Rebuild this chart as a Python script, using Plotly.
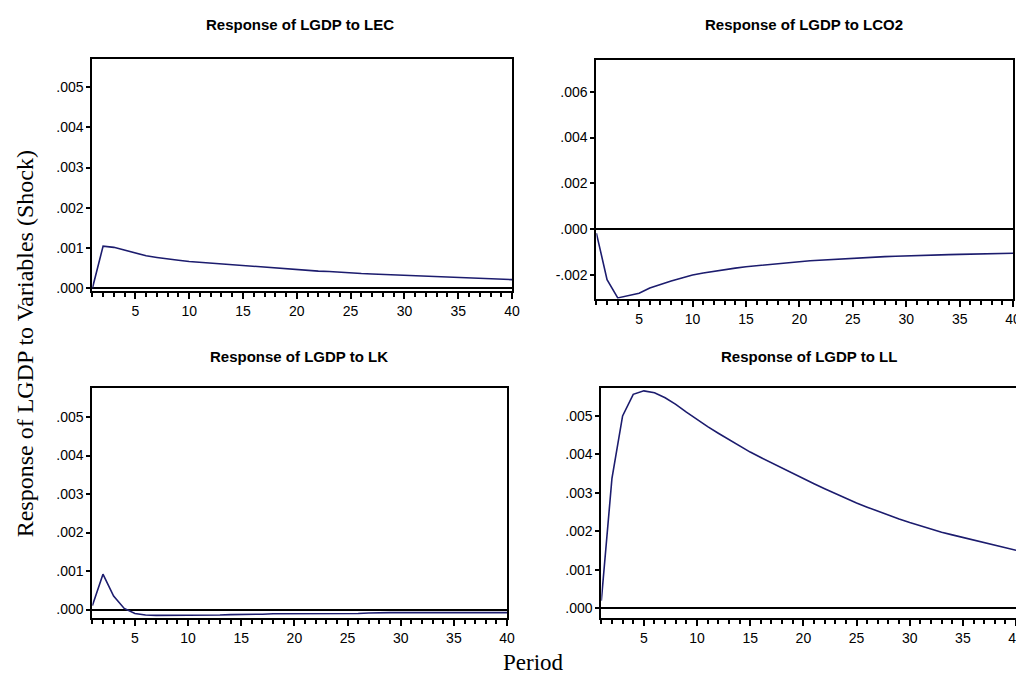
import plotly.graph_objects as go

periods = list(range(1, 41))

resp_lec = [0.0, 0.00105, 0.00102, 0.00095, 0.00087, 0.00081, 0.00077, 0.00073, 0.00070, 0.00067,
            0.00065, 0.00062, 0.00060, 0.00058, 0.00056, 0.00054, 0.00052, 0.00050, 0.00048, 0.00046,
            0.00045, 0.00043, 0.00042, 0.00040, 0.00039, 0.00037, 0.00036, 0.00035, 0.00034, 0.00032,
            0.00031, 0.00030, 0.00029, 0.00028, 0.00027, 0.00026, 0.00025, 0.00024, 0.00023, 0.00022]

resp_lco2 = [-0.00017, -0.0022, -0.0030, -0.0029, -0.0028, -0.00257, -0.0024, -0.00226, -0.00213, -0.0020,
             -0.00191, -0.00183, -0.00176, -0.00170, -0.00164, -0.00159, -0.00154, -0.00150, -0.00146, -0.00142,
             -0.00138, -0.00135, -0.00132, -0.00129, -0.00126, -0.00124, -0.00122, -0.00120, -0.00118, -0.00116,
             -0.00114, -0.00113, -0.00112, -0.00111, -0.00110, -0.00109, -0.00108, -0.00107, -0.00106, -0.00105]

resp_lk = [0.0001, 0.00092, 0.00035, 0.00003, -0.0001, -0.00014, -0.00015, -0.00015, -0.00015, -0.00014,
           -0.00014, -0.00014, -0.00014, -0.00013, -0.00013, -0.00013, -0.00012, -0.00011, -0.00011, -0.00011,
           -0.00011, -0.00011, -0.00010, -0.00010, -0.00010, -0.00010, -0.00009, -0.00008, -0.00008, -0.00008,
           -0.00008, -0.00008, -0.00008, -0.00008, -0.00008, -0.00008, -0.00008, -0.00008, -0.00008, -0.00008]

resp_ll = [0.0002, 0.00338, 0.0050, 0.00556, 0.00565, 0.00560, 0.00547, 0.00530, 0.00510, 0.00490,
           0.00472, 0.00455, 0.00438, 0.00422, 0.00406, 0.00392, 0.00378, 0.00364, 0.00351, 0.00338,
           0.00324, 0.00311, 0.00298, 0.00286, 0.00274, 0.00263, 0.00252, 0.00242, 0.00232, 0.00223,
           0.00214, 0.00206, 0.00198, 0.00191, 0.00184, 0.00177, 0.00170, 0.00163, 0.00157, 0.00151]

titles = ["Response of LGDP to LEC", "Response of LGDP to LCO2",
          "Response of LGDP to LK", "Response of LGDP to LL"]

yticks_a = [0.0, 0.001, 0.002, 0.003, 0.004, 0.005]
yticks_b = [-0.002, 0.0, 0.002, 0.004, 0.006]
xticks = [5, 10, 15, 20, 25, 30, 35, 40]


def fmt(v):
    s = f"{v:.3f}"
    return s.replace("0.", ".", 1)


series = [resp_lec, resp_lco2, resp_lk, resp_ll]
yticks = [yticks_a, yticks_b, yticks_a, yticks_a]
yranges = [[-0.00006, 0.0057], [-0.00304, 0.0074], [-0.00023, 0.00575], [-0.00026, 0.00572]]
xdomains = [[85 / 1024, 508 / 1024], [593 / 1024, 1013 / 1024],
            [85 / 1024, 503 / 1024], [598 / 1024, 1016 / 1024]]
ydomains = [[1 - 285 / 675, 1 - 51 / 675], [1 - 293 / 675, 1 - 52 / 675],
            [1 - 615 / 675, 1 - 383 / 675], [1 - 615 / 675, 1 - 383 / 675]]
title_pos = [(294, 17), (802, 17), (293, 351), (807, 351)]

tick_font = dict(size=14, family="Arial, Liberation Sans, sans-serif", color="black")

fig = go.Figure()
layout = dict(
    width=1024, height=675,
    margin=dict(l=0, r=0, t=0, b=0),
    paper_bgcolor="white", plot_bgcolor="white",
    showlegend=False,
    font=dict(family="Arial, Liberation Sans, sans-serif", color="black", size=14),
)
annotations = []
for i in range(4):
    suf = "" if i == 0 else str(i + 1)
    fig.add_trace(go.Scatter(x=periods, y=series[i], mode="lines",
                             line=dict(color="#1c1c6e", width=1.6),
                             xaxis="x" + suf, yaxis="y" + suf))
    layout["xaxis" + suf] = dict(
        domain=xdomains[i], anchor="y" + suf, range=[1, 40],
        tickvals=xticks, ticktext=[str(t) for t in xticks],
        ticks="outside", ticklen=6, tickwidth=1.8, tickcolor="black",
        minor=dict(tick0=1, dtick=1, ticks="outside", ticklen=4, tickcolor="black", tickwidth=1.5),
        showline=True, linecolor="black", linewidth=2, mirror=True,
        showgrid=False, zeroline=False,
        tickfont=tick_font,
    )
    layout["yaxis" + suf] = dict(
        domain=ydomains[i], anchor="x" + suf, range=yranges[i],
        tickvals=yticks[i], ticktext=[fmt(v) for v in yticks[i]],
        ticks="outside", ticklen=4, tickwidth=1.5, tickcolor="black",
        showline=True, linecolor="black", linewidth=2, mirror=True,
        showgrid=False, zeroline=True, zerolinecolor="black", zerolinewidth=1.5,
        tickfont=tick_font,
    )
    tx, ty = title_pos[i]
    annotations.append(dict(text="<b>" + titles[i] + "</b>", x=tx / 1024, y=1 - ty / 675,
                            xref="paper", yref="paper", showarrow=False,
                            xanchor="center", yanchor="middle",
                            font=dict(size=15, family="Arial, Liberation Sans, sans-serif", color="black")))

annotations.append(dict(text="Response of LGDP to Variables (Shock)", x=18 / 1024, y=1 - 338 / 675,
                        xref="paper", yref="paper", showarrow=False, textangle=-90,
                        xanchor="center", yanchor="middle",
                        font=dict(size=24, family="Liberation Serif, Times New Roman, serif", color="black")))
annotations.append(dict(text="Period", x=530 / 1024, y=1 - 659 / 675,
                        xref="paper", yref="paper", showarrow=False,
                        xanchor="center", yanchor="middle",
                        font=dict(size=23, family="Liberation Serif, Times New Roman, serif", color="black")))
layout["annotations"] = annotations
fig.update_layout(**layout)
fig.write_html("out.html")
